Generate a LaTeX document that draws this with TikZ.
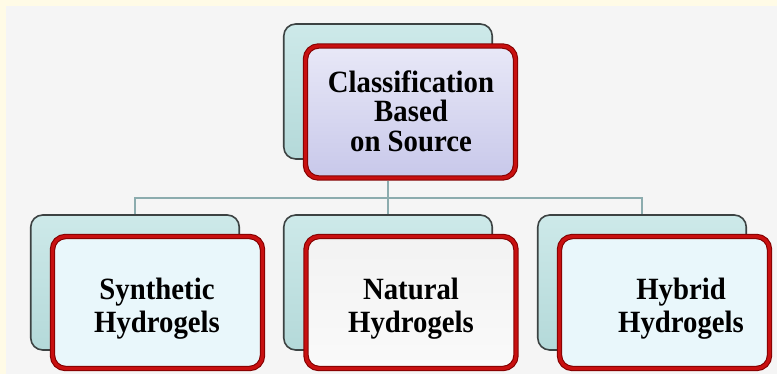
\documentclass[tikz,border=0pt]{standalone}
\usepackage{fontspec}
\setmainfont{Liberation Serif}[FakeStretch=0.93]
\definecolor{bggray}{RGB}{245,245,245}
\definecolor{bgcream}{RGB}{255,251,230}
\definecolor{backline}{RGB}{60,66,66}
\definecolor{backtop}{RGB}{205,233,233}
\definecolor{backbot}{RGB}{180,217,217}
\definecolor{redouter}{RGB}{130,0,0}
\definecolor{redinner}{RGB}{200,16,16}
\definecolor{frontcyan}{RGB}{233,247,251}
\definecolor{lavtop}{RGB}{232,232,247}
\definecolor{lavbot}{RGB}{200,200,234}
\definecolor{linkcol}{RGB}{140,172,174}

\begin{document}
\begin{tikzpicture}[
		backbox/.style={draw=backline, line width=0.9pt, rounded corners=0.24cm,
			minimum width=4.17cm, minimum height=2.7cm, top color=backtop, bottom color=backbot},
		frontbox/.style={draw=redouter, double=redinner, double distance=1.9pt, line width=0.6pt,
			rounded corners=0.26cm, minimum width=4.2cm, minimum height=2.64cm},
		boxtext/.style={font=\bfseries\fontsize{17.6}{18.7}\selectfont, align=center},
		link/.style={draw=linkcol, line width=1.1pt}
	]
				\useasboundingbox (0,0) rectangle (15.54,7.48);
				\fill[bggray] (0,0) rectangle (15.54,7.48);
				\fill[bgcream] (0,7.36) rectangle (15.54,7.48);
				\fill[bgcream] (0,0) rectangle (0.12,7.48);

				% top box
				\node[backbox] (srcback) at (7.76, 5.65) {};
				\node[frontbox, top color=lavtop, bottom color=lavbot] (srcfront) at (8.21, 5.24) {};
				\node[boxtext, font=\bfseries\fontsize{17.6}{16.8}\selectfont] (srctext) at (8.22, 5.26) {Classification\\Based\\on Source};

				% bottom boxes
				\node[backbox] (synback) at (2.70, 1.83) {};
				\node[backbox] (natback) at (7.76, 1.83) {};
				\node[backbox] (hybback) at (12.84, 1.83) {};

				\node[frontbox, fill=frontcyan] (synfront) at (3.15, 1.43) {};
				\node[frontbox, top color=white!95!black, bottom color=white!98!black] (natfront) at (8.22, 1.43) {};
				\node[frontbox, fill=frontcyan] (hybfront) at (13.29, 1.43) {};

				\node[boxtext] (syntext) at (3.14, 1.30) {Synthetic\\Hydrogels};
				\node[boxtext] (nattext) at (8.22, 1.30) {Natural\\Hydrogels};
				\node[boxtext] (hybtext) at (13.62, 1.30) {Hybrid\\Hydrogels};

				% connectors
				\coordinate (hub) at (7.76, 3.52);
				\draw[link, shorten <=1.6pt] (srcfront.south -| srcback) -- (hub);
				\draw[link] (synback.north) -- (synback.north |- hub) -- (hybback.north |- hub) -- (hybback.north);
				\draw[link] (hub) -- (natback.north);
\end{tikzpicture}
\end{document}
